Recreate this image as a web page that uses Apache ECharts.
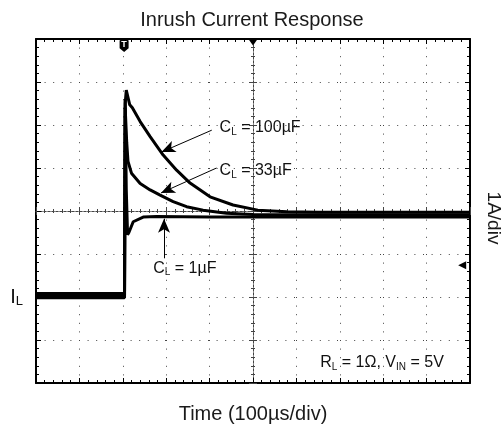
<!DOCTYPE html>
<html>
<head>
<meta charset="utf-8">
<script src="https://cdn.jsdelivr.net/npm/echarts@6/dist/echarts.min.js"></script>
<style>
  html, body { margin: 0; padding: 0; background: #fff; }
  #chart { width: 504px; height: 432px; }
</style>
</head>
<body>
<div id="chart"></div>
<script>
// time in µs (trigger at 0), current in A (1A/div)
const cap100Time = [-200, 4, 5.5, 8, 16, 22, 40, 63, 93, 124, 155, 201, 254, 311, 378, 450, 600, 800];
const cap100Amp  = [0.08, 0.08, 4.5, 4.81, 4.47, 4.40, 4.08, 3.73, 3.30, 2.95, 2.65, 2.33, 2.14, 2.02, 1.98, 1.97, 1.97, 1.97];
const cap33Time = [-200, 4, 5.5, 9, 12, 20, 40, 63, 86, 116, 147, 185, 239, 300, 500, 800];
const cap33Amp  = [0.03, 0.03, 4.4, 3.6, 3.15, 2.88, 2.64, 2.49, 2.37, 2.22, 2.10, 2.02, 1.95, 1.92, 1.91, 1.91];
const cap1Time = [-200, 4, 5.5, 8, 11, 14, 24, 47, 78, 200, 800];
const cap1Amp  = [-0.02, -0.02, 4.6, 2.5, 1.45, 1.5, 1.75, 1.86, 1.87, 1.86, 1.86];

const fontFam = "Arial, 'Liberation Sans', Helvetica, sans-serif";

function pairs(t, a) {
  return t.map((v, i) => [v, a[i]]);
}

const chart = echarts.init(document.getElementById('chart'));

const frameX = {
  type: 'value', min: -200, max: 800, interval: 100,
  axisLine: { onZero: false, lineStyle: { color: '#000', width: 2 } },
  axisTick: { inside: true, length: 5, lineStyle: { color: '#000' } },
  minorTick: { show: true, splitNumber: 5, length: 3, lineStyle: { color: '#000' } },
  axisLabel: { show: false },
  splitLine: { show: false }
};
const frameY = {
  type: 'value', min: -2, max: 6, interval: 1,
  axisLine: { onZero: false, lineStyle: { color: '#000', width: 2 } },
  axisTick: { inside: true, length: 5, lineStyle: { color: '#000' } },
  minorTick: { show: true, splitNumber: 5, length: 3, lineStyle: { color: '#000' } },
  axisLabel: { show: false },
  splitLine: { show: false }
};
const dots = { show: true, lineStyle: { color: '#444', width: 1, type: [1, 7.6] } };

// crosshair through the screen centre
function centreX(inside) {
  return Object.assign({}, frameX, {
    axisLine: { onZero: true, onZeroAxisIndex: 2, lineStyle: { color: '#444', width: 1, type: [2, 2] } },
    axisTick: { inside: inside, length: 4, lineStyle: { color: '#444' } },
    minorTick: { show: true, splitNumber: 5, length: 2, lineStyle: { color: '#444' } }
  });
}
function centreY(inside) {
  return Object.assign({}, frameY, {
    axisLine: { onZero: true, onZeroAxisIndex: 4, lineStyle: { color: '#444', width: 1, type: [2, 2] } },
    axisTick: { inside: inside, length: 4, lineStyle: { color: '#444' } },
    minorTick: { show: true, splitNumber: 5, length: 2, lineStyle: { color: '#444' } }
  });
}

const sub = {
  a: { fontSize: 16, fontFamily: fontFam, color: '#111', lineHeight: 18 },
  s: { fontSize: 10, fontFamily: fontFam, color: '#111', lineHeight: 12, verticalAlign: 'bottom' }
};

function note(coord, text) {
  return {
    coord: coord, symbol: 'circle', symbolSize: 0,
    label: { show: true, position: 'right', distance: 0, formatter: text, rich: sub }
  };
}

// arrow from a label to a trace
function pointer(from, to) {
  return [{ coord: from, symbol: 'none' }, { coord: to, symbol: 'arrow', symbolSize: [9, 14] }];
}

const traceStyle = { color: '#000', width: 3 };

chart.setOption({
  animation: false,
  title: {
    text: 'Inrush Current Response', left: 'center', top: 5,
    textStyle: { fontSize: 20, fontWeight: 'normal', color: '#1a1a1a', fontFamily: fontFam }
  },
  grid: { left: 36, right: 34, top: 39, bottom: 49, outerBoundsMode: 'none' },
  xAxis: [
    Object.assign({}, frameX, {
      position: 'bottom', splitLine: dots,
      name: 'Time (100µs/div)', nameLocation: 'middle', nameGap: 21,
      nameTextStyle: { fontSize: 20, color: '#1a1a1a', fontFamily: fontFam }
    }),
    Object.assign({}, frameX, { position: 'top' }),
    centreX(true),
    centreX(false),
    { type: 'value', min: -1, max: 1, show: false }
  ],
  yAxis: [
    Object.assign({}, frameY, {
      position: 'left', splitLine: dots,
      axisLabel: {
        show: true, margin: 13,
        formatter: v => (v === 0 ? '{i|I}{s|L}' : ''),
        rich: {
          i: { fontSize: 20, fontFamily: fontFam, color: '#111', lineHeight: 22 },
          s: { fontSize: 13, fontFamily: fontFam, color: '#111', lineHeight: 14, verticalAlign: 'bottom' }
        }
      }
    }),
    Object.assign({}, frameY, {
      position: 'right',
      name: '1A/div', nameLocation: 'middle', nameGap: 14, nameRotate: -90,
      nameTextStyle: { fontSize: 19, color: '#1a1a1a', fontFamily: fontFam, padding: [0, 0, 0, 14] }
    }),
    { type: 'value', min: -1, max: 1, show: false },
    centreY(true),
    centreY(false)
  ],
  series: [
    {
      name: '100µF', type: 'line', data: pairs(cap100Time, cap100Amp),
      showSymbol: false, lineStyle: traceStyle, z: 3,
      markLine: {
        silent: true,
        lineStyle: { color: '#000', width: 1, type: 'solid' },
        label: { show: false },
        data: [
          pointer([205, 3.88], [89, 3.37]),
          pointer([216, 3.0], [88, 2.42]),
          pointer([95, 0.9], [95, 1.82])
        ]
      },
      markPoint: {
        silent: true,
        data: [
          note([223, 3.93], '{a|C}{s|L}{a| = 100µF}'),
          note([223, 2.93], '{a|C}{s|L}{a| = 33µF}'),
          note([70, 0.67], '{a|C}{s|L}{a| = 1µF}'),
          note([455, -1.53], '{a|R}{s|L}{a| = 1Ω, V}{s|IN}{a| = 5V}'),
          {
            coord: [3, 5.84], symbol: 'path://M1,0 L9,0 Q10,0 10,1 L10,9 L5,13 L0,9 L0,1 Q0,0 1,0 Z',
            symbolSize: [9, 12], itemStyle: { color: '#000' },
            label: { show: true, position: 'inside', offset: [0, -1], formatter: 'T',
              color: '#fff', fontSize: 9, fontWeight: 'bold', fontFamily: fontFam }
          },
          {
            coord: [300, 6], symbol: 'triangle', symbolRotate: 180, symbolSize: [10, 7],
            symbolOffset: [0, 3], itemStyle: { color: '#000' }, label: { show: false }
          },
          {
            coord: [782, 0.74], symbol: 'triangle', symbolRotate: 90, symbolSize: [8, 8],
            itemStyle: { color: '#000' }, label: { show: false }
          }
        ]
      }
    },
    {
      name: '33µF', type: 'line', data: pairs(cap33Time, cap33Amp),
      showSymbol: false, lineStyle: traceStyle, z: 3
    },
    {
      name: '1µF', type: 'line', data: pairs(cap1Time, cap1Amp),
      showSymbol: false, lineStyle: traceStyle, z: 3
    }
  ]
});
</script>
</body>
</html>
